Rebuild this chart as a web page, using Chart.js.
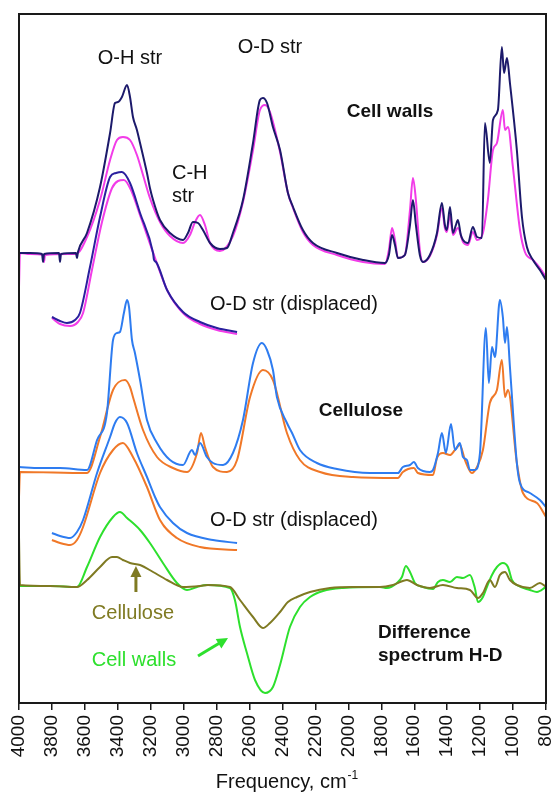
<!DOCTYPE html>
<html>
<head>
<meta charset="utf-8">
<title>IR spectra H-D</title>
<script src="https://cdn.jsdelivr.net/npm/chart.js@4.4.1/dist/chart.umd.min.js"></script>
<style>
  html, body { margin: 0; padding: 0; background: #fff; }
  #wrap { width: 553px; height: 794px; }
</style>
</head>
<body>
<div id="wrap"><canvas id="spectra" width="553" height="794"></canvas></div>
<script>
// wavenumber (cm-1), offset absorbance (arbitrary units)
const wallsH = [[4000,4.50],[3933,4.50],[3860,4.49],[3854,4.41],[3848,4.49],[3757,4.50],[3751,4.41],[3745,4.49],
  [3654,4.50],[3648,4.45],[3642,4.51],[3587,4.70],[3508,5.16],[3447,5.70],[3417,6.00],[3399,6.01],[3375,6.06],
  [3344,6.18],[3326,6.06],[3308,5.86],[3284,5.73],[3265,5.60],[3223,5.30],[3205,5.15],[3186,5.03],[3144,4.83],
  [3083,4.70],[3004,4.63],[2974,4.70],[2944,4.81],[2913,4.80],[2883,4.73],[2840,4.60],[2780,4.54],[2737,4.55],
  [2701,4.70],[2640,5.03],[2579,5.60],[2537,6.03],[2519,6.05],[2494,6.00],[2458,5.76],[2415,5.53],[2367,5.10],
  [2336,4.96],[2276,4.73],[2215,4.60],[2069,4.50],[1911,4.43],[1778,4.40],[1754,4.48],[1735,4.68],[1717,4.58],
  [1699,4.45],[1657,4.48],[1626,4.78],[1608,5.03],[1590,4.78],[1566,4.48],[1547,4.41],[1505,4.48],[1462,4.70],
  [1432,5.00],[1414,4.78],[1402,4.73],[1383,4.96],[1365,4.70],[1347,4.78],[1335,4.83],[1317,4.68],[1304,4.63],
  [1274,4.60],[1244,4.76],[1219,4.66],[1189,4.65],[1171,5.80],[1141,5.40],[1122,5.83],[1092,5.93],[1068,6.56],
  [1055,6.30],[1037,6.45],[1019,6.20],[977,5.53],[946,4.86],[916,4.56],[879,4.43],[837,4.33],[800,4.23]];

const wallsD = [[4000,4.16],[3994,4.50],[3933,4.49],[3854,4.48],[3848,4.41],[3842,4.48],[3654,4.49],[3587,4.66],
  [3508,5.03],[3447,5.43],[3405,5.63],[3369,5.66],[3326,5.63],[3284,5.48],[3247,5.28],[3205,5.05],[3144,4.81],
  [3083,4.67],[3004,4.60],[2962,4.68],[2931,4.81],[2901,4.88],[2871,4.78],[2840,4.60],[2780,4.52],[2701,4.67],
  [2640,5.01],[2579,5.53],[2537,5.93],[2506,5.98],[2476,5.91],[2415,5.51],[2367,5.10],[2336,4.95],[2276,4.71],
  [2215,4.58],[2069,4.48],[1911,4.41],[1778,4.39],[1754,4.53],[1735,4.75],[1717,4.63],[1699,4.45],[1657,4.48],
  [1626,4.93],[1608,5.25],[1590,5.03],[1566,4.53],[1547,4.41],[1505,4.47],[1462,4.68],[1432,4.95],[1414,4.75],
  [1402,4.71],[1383,4.88],[1365,4.68],[1335,4.75],[1304,4.61],[1274,4.58],[1244,4.71],[1219,4.63],[1183,4.70],
  [1153,5.03],[1122,5.53],[1098,5.60],[1062,5.93],[1049,5.73],[1031,5.76],[1001,5.36],[958,4.73],[928,4.51],
  [879,4.43],[837,4.35],[800,4.26]];

// O-D band shifted up into the O-H range
const wallsHShift = [[3800,3.86],[3751,3.82],[3709,3.80],[3660,3.83],[3630,3.90],[3569,4.36],[3508,4.86],
  [3447,5.26],[3411,5.30],[3375,5.31],[3326,5.20],[3265,4.90],[3186,4.50],[3180,4.43],[3168,4.41],[3101,4.13],
  [3004,3.91],[2901,3.81],[2798,3.75],[2676,3.71]];

const wallsDShift = [[3800,3.85],[3751,3.79],[3690,3.77],[3642,3.81],[3611,3.90],[3557,4.33],[3496,4.81],
  [3435,5.15],[3399,5.22],[3363,5.23],[3320,5.13],[3259,4.85],[3174,4.45],[3095,4.11],[2998,3.89],[2901,3.79],
  [2798,3.73],[2676,3.69]];

const celluloseH = [[4000,2.36],[3872,2.35],[3751,2.35],[3587,2.33],[3526,2.63],[3466,2.90],[3429,3.63],
  [3405,3.70],[3387,3.71],[3363,3.90],[3344,4.03],[3332,3.96],[3314,3.63],[3296,3.50],[3265,3.23],[3223,2.83],
  [3162,2.60],[3083,2.43],[3004,2.38],[2950,2.53],[2931,2.48],[2901,2.60],[2859,2.46],[2822,2.40],[2761,2.38],
  [2701,2.50],[2640,2.83],[2579,3.40],[2525,3.60],[2494,3.53],[2458,3.33],[2434,3.06],[2373,2.80],[2342,2.70],
  [2294,2.53],[2191,2.40],[2069,2.34],[1869,2.30],[1699,2.30],[1669,2.36],[1626,2.38],[1602,2.41],[1578,2.35],
  [1505,2.31],[1486,2.33],[1456,2.50],[1432,2.70],[1408,2.50],[1377,2.79],[1353,2.53],[1323,2.60],[1304,2.46],
  [1280,2.43],[1262,2.33],[1232,2.33],[1201,2.50],[1165,3.75],[1147,3.20],[1128,3.56],[1110,3.46],[1080,4.03],
  [1062,3.86],[1049,3.60],[1037,3.76],[1019,3.36],[977,2.40],[958,2.20],[898,2.10],[837,2.03],[800,1.96]];

const celluloseD = [[4000,2.06],[3994,2.31],[3587,2.30],[3508,2.66],[3429,3.13],[3356,3.23],[3326,3.16],
  [3308,3.06],[3247,2.73],[3162,2.46],[3065,2.35],[2980,2.31],[2919,2.50],[2895,2.70],[2871,2.56],[2822,2.36],
  [2737,2.31],[2676,2.43],[2597,3.06],[2519,3.33],[2458,3.23],[2373,2.70],[2294,2.43],[2172,2.31],[1972,2.26],
  [1699,2.25],[1669,2.31],[1602,2.35],[1578,2.30],[1486,2.28],[1462,2.45],[1426,2.50],[1383,2.48],[1353,2.53],
  [1323,2.58],[1292,2.43],[1250,2.30],[1219,2.36],[1183,2.53],[1141,3.00],[1098,3.13],[1068,3.43],[1049,3.06],
  [1031,3.13],[977,2.40],[940,2.10],[855,2.00],[800,1.86]];

const celluloseHShift = [[3800,1.70],[3751,1.67],[3690,1.65],[3648,1.71],[3611,1.83],[3526,2.30],[3447,2.66],
  [3417,2.80],[3387,2.86],[3344,2.80],[3284,2.50],[3223,2.26],[3174,2.06],[3144,1.96],[3065,1.80],[2980,1.70],
  [2822,1.63],[2676,1.60]];

const celluloseDShift = [[3800,1.63],[3751,1.60],[3690,1.58],[3648,1.63],[3611,1.76],[3508,2.30],[3429,2.53],
  [3369,2.60],[3308,2.46],[3223,2.16],[3144,1.83],[3041,1.65],[2901,1.56],[2676,1.53]];

// difference spectra H - D
const diffCellulose = [[4000,1.66],[3994,1.18],[3812,1.17],[3648,1.16],[3587,1.23],[3508,1.36],[3435,1.46],
  [3405,1.46],[3369,1.43],[3326,1.40],[3265,1.38],[3186,1.31],[3101,1.23],[3004,1.16],[2901,1.17],[2852,1.18],
  [2719,1.16],[2658,1.03],[2579,0.86],[2519,0.75],[2476,0.80],[2415,0.91],[2367,1.01],[2312,1.06],[2233,1.11],
  [2112,1.15],[1972,1.16],[1808,1.16],[1729,1.18],[1644,1.23],[1584,1.18],[1505,1.15],[1426,1.18],[1341,1.15],
  [1262,1.13],[1213,1.05],[1183,1.10],[1141,1.23],[1110,1.16],[1080,1.28],[1049,1.31],[1019,1.23],[977,1.18],
  [898,1.15],[837,1.20],[800,1.16]];

const diffWalls = [[4000,1.17],[3812,1.17],[3648,1.16],[3587,1.36],[3508,1.66],[3429,1.86],[3387,1.91],
  [3344,1.85],[3265,1.73],[3205,1.60],[3126,1.40],[3041,1.20],[2980,1.13],[2919,1.16],[2859,1.18],[2719,1.15],
  [2689,1.03],[2658,0.76],[2616,0.50],[2567,0.23],[2506,0.10],[2458,0.16],[2415,0.38],[2355,0.76],[2294,0.96],
  [2233,1.06],[2154,1.12],[2033,1.15],[1808,1.16],[1766,1.15],[1705,1.20],[1675,1.26],[1651,1.37],[1626,1.31],
  [1596,1.20],[1547,1.16],[1486,1.14],[1456,1.21],[1426,1.23],[1383,1.21],[1341,1.26],[1304,1.25],[1262,1.28],
  [1232,1.15],[1213,1.01],[1183,1.06],[1159,1.16],[1128,1.28],[1098,1.36],[1062,1.40],[1031,1.36],[1007,1.23],
  [977,1.18],[898,1.13],[855,1.11],[800,1.16]];

const tickValues = [4000,3800,3600,3400,3200,3000,2800,2600,2400,2200,2000,1800,1600,1400,1200,1000,800];

const FONT = '"Liberation Sans", Arial, sans-serif';

// text labels, placed in data coordinates
const notes = [
  { text: "O-H str", x: 3326, y: 6.45, color: "#111", bold: false, align: "center" },
  { text: "O-D str", x: 2476, y: 6.56, color: "#111", bold: false, align: "center" },
  { text: "C-H", x: 3071, y: 5.30, color: "#111", bold: false, align: "left" },
  { text: "str", x: 3071, y: 5.07, color: "#111", bold: false, align: "left" },
  { text: "Cell walls", x: 1747, y: 5.91, color: "#111", bold: true, align: "center" },
  { text: "O-D str (displaced)", x: 2840, y: 3.99, color: "#111", bold: false, align: "left" },
  { text: "Cellulose", x: 1924, y: 2.92, color: "#111", bold: true, align: "center" },
  { text: "O-D str (displaced)", x: 2840, y: 1.83, color: "#111", bold: false, align: "left" },
  { text: "Cellulose", x: 3308, y: 0.90, color: "#7f7a22", bold: false, align: "center" },
  { text: "Cell walls", x: 3302, y: 0.43, color: "#2de02d", bold: false, align: "center" },
  { text: "Difference", x: 1820, y: 0.70, color: "#111", bold: true, align: "left" },
  { text: "spectrum H-D", x: 1820, y: 0.47, color: "#111", bold: true, align: "left" }
];

const arrows = [
  { from: [3290, 1.11], to: [3290, 1.37], color: "#7f7a22" },
  { from: [2913, 0.47], to: [2731, 0.65], color: "#2de02d" }
];

function toPoints(arr) {
  return arr.map(p => ({ x: p[0], y: p[1] }));
}

function line(label, arr, color) {
  return {
    label: label,
    data: toPoints(arr),
    borderColor: color,
    borderWidth: 2,
    pointRadius: 0,
    showLine: true,
    fill: false,
    cubicInterpolationMode: "monotone"
  };
}

const framePlugin = {
  id: "frame",
  afterDatasetsDraw(chart) {
    const { ctx, chartArea: a, scales } = chart;
    ctx.save();
    ctx.strokeStyle = "#1a1a1a";
    ctx.lineWidth = 2;
    ctx.strokeRect(a.left, a.top, a.right - a.left, a.bottom - a.top);

    // annotations
    ctx.textBaseline = "middle";
    notes.forEach(n => {
      ctx.font = (n.bold ? "bold 19px " : "20px ") + FONT;
      ctx.fillStyle = n.color;
      ctx.textAlign = n.align;
      ctx.fillText(n.text, scales.x.getPixelForValue(n.x), scales.y.getPixelForValue(n.y));
    });

    arrows.forEach(ar => {
      const x1 = scales.x.getPixelForValue(ar.from[0]), y1 = scales.y.getPixelForValue(ar.from[1]);
      const x2 = scales.x.getPixelForValue(ar.to[0]), y2 = scales.y.getPixelForValue(ar.to[1]);
      const ang = Math.atan2(y2 - y1, x2 - x1);
      const head = 11;
      ctx.strokeStyle = ar.color;
      ctx.fillStyle = ar.color;
      ctx.lineWidth = 3;
      ctx.beginPath();
      ctx.moveTo(x1, y1);
      ctx.lineTo(x2 - Math.cos(ang) * head * 0.8, y2 - Math.sin(ang) * head * 0.8);
      ctx.stroke();
      ctx.beginPath();
      ctx.moveTo(x2, y2);
      ctx.lineTo(x2 - head * Math.cos(ang) + 5.5 * Math.sin(ang), y2 - head * Math.sin(ang) - 5.5 * Math.cos(ang));
      ctx.lineTo(x2 - head * Math.cos(ang) - 5.5 * Math.sin(ang), y2 - head * Math.sin(ang) + 5.5 * Math.cos(ang));
      ctx.closePath();
      ctx.fill();
    });

    // axis title with superscript
    ctx.fillStyle = "#111";
    ctx.textAlign = "left";
    ctx.textBaseline = "alphabetic";
    ctx.font = "20px " + FONT;
    const main = "Frequency, cm";
    const w = ctx.measureText(main).width;
    ctx.font = "12px " + FONT;
    const sw = ctx.measureText("-1").width;
    const cx = (a.left + a.right) / 2 + 4;
    const x0 = cx - (w + sw) / 2;
    ctx.font = "20px " + FONT;
    ctx.fillText(main, x0, 788);
    ctx.font = "12px " + FONT;
    ctx.fillText("-1", x0 + w + 1, 779);
    ctx.restore();
  }
};

new Chart(document.getElementById("spectra"), {
  type: "scatter",
  data: {
    datasets: [
      line("Cell walls H", wallsH, "#1c1a6b"),
      line("Cell walls D", wallsD, "#f23ce8"),
      line("Cell walls H, O-D displaced", wallsHShift, "#2a1f9e"),
      line("Cell walls D, O-D displaced", wallsDShift, "#f23ce8"),
      line("Cellulose H", celluloseH, "#2e7cf0"),
      line("Cellulose D", celluloseD, "#f07828"),
      line("Cellulose H, O-D displaced", celluloseHShift, "#2e7cf0"),
      line("Cellulose D, O-D displaced", celluloseDShift, "#f07828"),
      line("Difference cellulose", diffCellulose, "#7f7a22"),
      line("Difference cell walls", diffWalls, "#2de02d")
    ]
  },
  options: {
    responsive: false,
    animation: false,
    devicePixelRatio: 1,
    layout: { padding: { left: 19, right: 7, top: 14, bottom: 0 } },
    plugins: {
      legend: { display: false },
      tooltip: { enabled: false }
    },
    scales: {
      x: {
        type: "linear",
        reverse: true,
        min: 800,
        max: 4000,
        afterBuildTicks(scale) {
          scale.ticks = tickValues.map(v => ({ value: v }));
        },
        afterFit(scale) {
          scale.height = 91;
          scale.paddingLeft = 0;
          scale.paddingRight = 0;
        },
        border: { display: false },
        grid: {
          drawOnChartArea: false,
          drawTicks: true,
          tickLength: 7,
          color: "#1a1a1a",
          lineWidth: 1.5
        },
        ticks: {
          minRotation: 90,
          maxRotation: 90,
          padding: 5,
          color: "#111",
          font: { family: FONT, size: 19 },
          callback: v => String(v)
        }
      },
      y: {
        display: false,
        min: 0,
        max: 6.89
      }
    }
  },
  plugins: [framePlugin]
});
</script>
</body>
</html>
